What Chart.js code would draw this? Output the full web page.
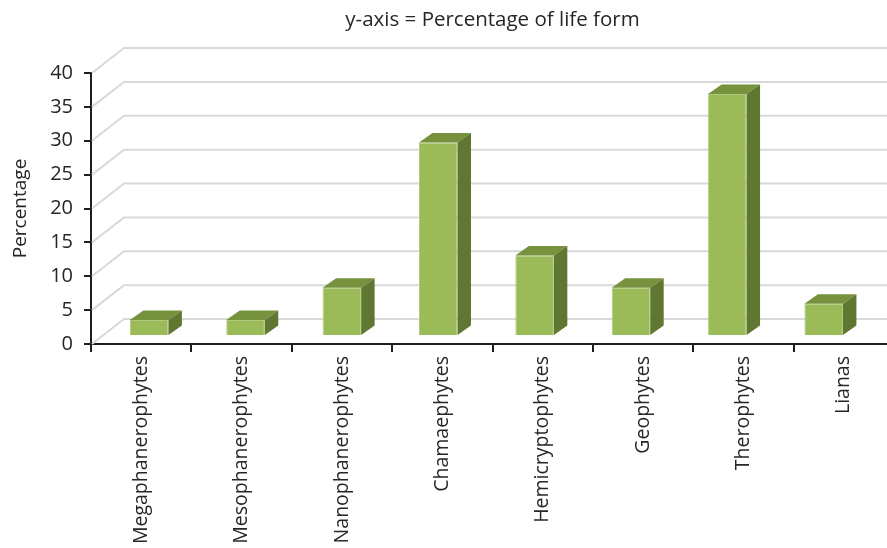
<!DOCTYPE html>
<html>
<head>
<meta charset="utf-8">
<script src="https://cdn.jsdelivr.net/npm/chart.js@4.4.1/dist/chart.umd.min.js"></script>
<style>
  html, body { margin: 0; padding: 0; overflow: hidden; background: #fff; }
  .chartBox { width: 894px; height: 548px; }
</style>
</head>
<body>
<div class="chartBox"><canvas id="chart"></canvas></div>
<script>
// Data
const lifeForms = [
  "Megaphanerophytes",
  "Mesophanerophytes",
  "Nanophanerophytes",
  "Chamaephytes",
  "Hemicryptophytes",
  "Geophytes",
  "Therophytes",
  "Lianas",
];
const percentages = [2.38, 2.38, 7.14, 28.57, 11.9, 7.14, 35.71, 4.76];
const yMin = 0;
const yMax = 40;
const yStep = 5;

const chartTitle = "y-axis = Percentage of life form";
const yTitle = "Percentage";

// Look
const textColor = "#262626";
const axisColor = "#1e1e1e";
const gridColor = "#d9d9d9";
const frontColor = "#9bbb59";
const topColor = "#76923c";
const sideColor = "#5f7731";
const edgeColor = "#b0c97c";
const fontFamily = "'Open Sans', 'Noto Sans', sans-serif";

// 3D geometry (pixels)
const WALL_DX = 33;   // back wall offset
const WALL_DY = 25;
const PERSP = 0.96;   // bar row is further back, so a bit narrower
const SHIFT_X = 10;   // bar row offset from front axis
const SHIFT_Y = 8;
const DEPTH_DX = 14;  // bar depth
const DEPTH_DY = 9.5;

// Plugin: back wall, 3D bar faces, title
const box3d = {
  id: "box3d",
  beforeDatasetsDraw(chart) {
    const { ctx, chartArea, scales } = chart;
    const left = chartArea.left;

    // back wall gridlines
    ctx.save();
    ctx.strokeStyle = gridColor;
    ctx.lineWidth = 2;
    scales.y.ticks.forEach((t) => {
      const py = scales.y.getPixelForValue(t.value);
      ctx.beginPath();
      ctx.moveTo(left + 1, py);
      ctx.lineTo(left + WALL_DX, py - WALL_DY);
      ctx.lineTo(chart.width, py - WALL_DY);
      ctx.stroke();
    });
    ctx.restore();

    // put the bars on their own plane
    ctx.save();
    ctx.transform(PERSP, 0, 0, 1, left * (1 - PERSP) + SHIFT_X, -SHIFT_Y);
  },
  afterDatasetsDraw(chart) {
    const { ctx } = chart;
    const meta = chart.getDatasetMeta(0);
    meta.data.forEach((bar) => {
      const { x, y, base, width } = bar.getProps(["x", "y", "base", "width"], true);
      const l = x - width / 2;
      const r = x + width / 2;

      // top face
      ctx.fillStyle = topColor;
      ctx.beginPath();
      ctx.moveTo(l, y);
      ctx.lineTo(r, y);
      ctx.lineTo(r + DEPTH_DX, y - DEPTH_DY);
      ctx.lineTo(l + DEPTH_DX, y - DEPTH_DY);
      ctx.closePath();
      ctx.fill();

      // side face
      ctx.fillStyle = sideColor;
      ctx.beginPath();
      ctx.moveTo(r, y);
      ctx.lineTo(r + DEPTH_DX, y - DEPTH_DY);
      ctx.lineTo(r + DEPTH_DX, base - DEPTH_DY);
      ctx.lineTo(r, base);
      ctx.closePath();
      ctx.fill();
    });
    ctx.restore();
  },
  afterDraw(chart) {
    const { ctx, chartArea } = chart;
    ctx.save();
    ctx.fillStyle = textColor;
    ctx.font = `20.5px ${fontFamily}`;
    ctx.textAlign = "center";
    ctx.textBaseline = "middle";
    ctx.fillText(chartTitle, (chartArea.left + chartArea.right) / 2, 20);
    ctx.restore();
  },
};

// Create chart
const data = {
  labels: lifeForms,
  datasets: [
    {
      label: yTitle,
      data: percentages,
      backgroundColor: frontColor,
      borderColor: edgeColor,
      borderWidth: 1,
      barPercentage: 0.4,
      categoryPercentage: 1,
    },
  ],
};

const config = {
  type: "bar",
  data: data,
  options: {
    responsive: true,
    maintainAspectRatio: false,
    animation: false,
    layout: { padding: { top: 73, left: 0, right: 0, bottom: 0 } },
    plugins: {
      legend: { display: false },
      tooltip: { enabled: false },
      title: { display: false },
    },
    scales: {
      x: {
        grid: {
          offset: true,
          drawOnChartArea: false,
          color: axisColor,
          lineWidth: 2,
          tickLength: 8,
        },
        border: { color: axisColor, width: 2 },
        ticks: {
          autoSkip: false,
          maxRotation: 90,
          minRotation: 90,
          padding: 4,
          color: textColor,
          font: { family: fontFamily, size: 19.5 },
        },
        afterFit: (scale) => {
          scale.height = 548 - 344;
          scale.paddingLeft = 0;
          scale.paddingRight = 0;
        },
      },
      y: {
        min: yMin,
        max: yMax,
        ticks: {
          stepSize: yStep,
          padding: 11,
          color: textColor,
          font: { family: fontFamily, size: 20 },
        },
        grid: {
          drawOnChartArea: false,
          color: axisColor,
          lineWidth: 2,
          tickLength: 7,
        },
        border: { color: axisColor, width: 2 },
        title: {
          display: true,
          text: yTitle,
          color: textColor,
          padding: { top: 9, bottom: 0 },
          font: { family: fontFamily, size: 19 },
        },
        afterFit: (scale) => {
          scale.width = 91;
        },
      },
    },
  },
  plugins: [box3d],
};

const myChart = new Chart(document.querySelector("#chart"), config);
</script>
</body>
</html>
